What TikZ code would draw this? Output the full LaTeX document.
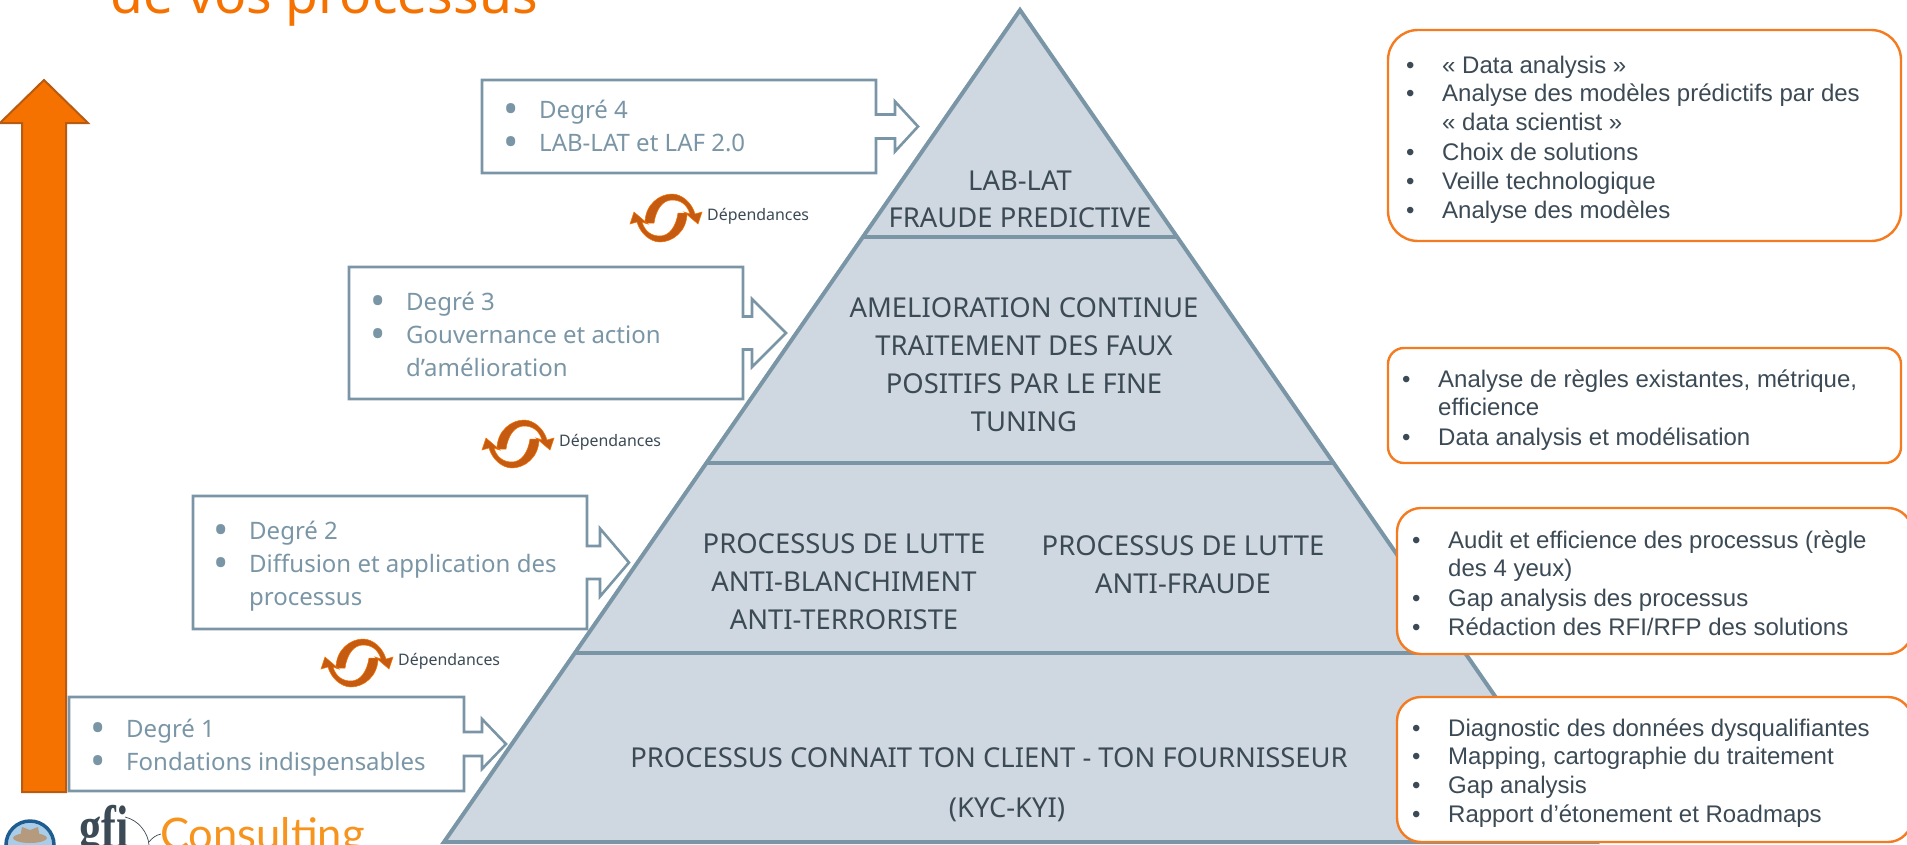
\documentclass[tikz,border=0pt]{standalone}
\usepackage{fontspec}
\setmainfont{Noto Sans}
\newfontfamily\arialfont{Liberation Sans}
\newfontfamily\gfifont{Liberation Serif}
\newfontfamily\consultfont{Lato}
\definecolor{pyrline}{HTML}{7A96A6}
\definecolor{pyrfill}{HTML}{CFD8E0}
\definecolor{txtdark}{HTML}{3B4A55}
\definecolor{orangemain}{HTML}{F57200}
\definecolor{orangedark}{HTML}{B85A10}
\definecolor{orangebord}{HTML}{F47B20}
\definecolor{orangelogo}{HTML}{F7941D}
\definecolor{flipdark}{HTML}{C55A11}
\definecolor{avatring}{HTML}{1F5C8F}
\definecolor{avatfill}{HTML}{A9CDE8}
\definecolor{avathat}{HTML}{B59A7D}
\newcommand\puce[1]{\par\spaceskip=0pt\xspaceskip=0pt\noindent\makebox[36pt][l]{\textbullet}\begin{tabular}[t]{@{}l@{}}#1\end{tabular}\par}
\newcommand\puced[1]{\par\spaceskip=0pt\xspaceskip=0pt\noindent\makebox[36pt][l]{\raisebox{-.22em}{\scalebox{1.7}{\textbullet}}}\begin{tabular}[t]{@{}l@{}}#1\end{tabular}\par}
\newcommand\degrebox[8]{%
  \pgfmathsetmacro\midy{(#2+#4)/2}
  \pgfmathsetmacro\necka{\midy-#5}
  \pgfmathsetmacro\neckb{\midy+#5}
  \pgfmathsetmacro\heada{\midy-#6}
  \pgfmathsetmacro\headb{\midy+#6}
  \draw[degreline] (#1,#2) -- (#3,#2) -- (#3,\necka) -- (#7,\necka) -- (#7,\heada) -- (#8,\midy) -- (#7,\headb) -- (#7,\neckb) -- (#3,\neckb) -- (#3,#4) -- (#1,#4) -- cycle;
}
\tikzset{
  degreline/.style={draw=pyrline, line width=2.6pt, fill=white, line join=miter},
  degretxt/.style={anchor=north west, inner sep=0pt, text width=380pt, align=left, text=pyrline, font=\fontsize{24}{33}\selectfont},
  pyrtxt/.style={anchor=base, inner sep=0pt, text=txtdark, font=\fontsize{27.4}{32}\selectfont},
  casebox/.style={draw=orangebord, line width=2.4pt, fill=white},
  casetxt/.style={anchor=north west, inner sep=0pt, text width=490pt, align=left, text=txtdark, font=\arialfont\fontsize{24}{28.8}\selectfont},
  deptxt/.style={anchor=west, inner sep=0pt, text=txtdark, font=\fontsize{15.9}{20}\selectfont},
  flip/.pic={
    \foreach \ang in {0,180} {
      \fill[flipdark, rotate=\ang, draw=orangemain, line width=0.5pt] (-21,5) .. controls (-21,-14) and (-6,-24) .. (6,-24) .. controls (16,-24) and (26,-15) .. (29,-4) -- (36,-6) -- (32,6) -- (18,-6) -- (24,-4) .. controls (21,-14) and (14,-18) .. (6,-18) .. controls (-3,-18) and (-10,-9) .. (-12,5) -- cycle;
    }
  }
}
\begin{document}
\begin{tikzpicture}[x=1pt,y=-1pt]
\useasboundingbox (0,0) rectangle (1907,844);
\node[anchor=base west, inner sep=0pt, text=orangemain, font=\fontsize{53.4}{60}\selectfont] (title) at (110,13) {de vos processus};
% grande fleche
\draw[fill=orangemain, draw=orangedark, line width=2pt] (44,80) -- (88,123) -- (66,123) -- (66,792) -- (22,792) -- (22,123) -- (0,123) -- cycle;
% pyramide
\coordinate (apex) at (1020,10);
\coordinate (baseL) at (444,842);
\coordinate (baseR) at (1596,842);
\draw[draw=pyrline, fill=pyrfill, line width=4pt, line join=miter] (apex) -- (baseL) -- (baseR) -- cycle;
\foreach \lvl in {237,463,653} {
  \pgfmathsetmacro\dx{(\lvl-10)*0.692}
  \draw[draw=pyrline, line width=4pt] (1020-\dx,\lvl) -- (1020+\dx,\lvl);
}
\node[pyrtxt] (lab1) at (1020,190) {LAB-LAT};
\node[pyrtxt] (lab2) at (1020,227) {FRAUDE PREDICTIVE};
\node[pyrtxt] (amel1) at (1024,317) {AMELIORATION CONTINUE};
\node[pyrtxt] (amel2) at (1024,355) {TRAITEMENT DES FAUX};
\node[pyrtxt] (amel3) at (1024,393) {POSITIFS PAR LE FINE};
\node[pyrtxt] (amel4) at (1024,431) {TUNING};
\node[pyrtxt] (blanc1) at (844,553) {PROCESSUS DE LUTTE};
\node[pyrtxt] (blanc2) at (844,591) {ANTI-BLANCHIMENT};
\node[pyrtxt] (blanc3) at (844,629) {ANTI-TERRORISTE};
\node[pyrtxt] (fraude1) at (1183,555) {PROCESSUS DE LUTTE};
\node[pyrtxt] (fraude2) at (1183,593) {ANTI-FRAUDE};
\node[pyrtxt] (kyc1) at (989,767) {PROCESSUS CONNAIT TON CLIENT - TON FOURNISSEUR};
\node[pyrtxt] (kyc2) at (1007,817) {(KYC-KYI)};
% degres
\degrebox{482}{80}{876}{173}{12}{25}{895}{918}
\degrebox{349}{267}{743}{399}{16.5}{34}{752}{786}
\degrebox{193}{496}{587}{629}{16.5}{34}{600}{629}
\degrebox{69}{697}{464}{791}{12}{25}{482}{506}
\node[degretxt] (deg4) at (503,85) {\puced{Degré 4}\puced{LAB-LAT et LAF 2.0}};
\node[degretxt] (deg3) at (370,277) {\puced{Degré 3}\puced{Gouvernance et action\\d’amélioration}};
\node[degretxt] (deg2) at (213,506) {\puced{Degré 2}\puced{Diffusion et application des\\processus}};
\node[degretxt] (deg1) at (90,704) {\puced{Degré 1}\puced{Fondations indispensables}};
% dependances
\foreach \nom/\fx/\fy in {a/666/218,b/518/444,c/357/663} {
  \pic at (\fx,\fy) {flip};
  \node[deptxt] (dep\nom) at (\fx+41,\fy-2) {Dépendances};
}
% cadres orange
\draw[casebox, rounded corners=30pt] (1388,30) rectangle (1901,241);
\draw[casebox, rounded corners=16pt] (1388,348) rectangle (1901,463);
\draw[casebox, rounded corners=24pt] (1397,508) rectangle (1912,654);
\draw[casebox, rounded corners=24pt] (1397,697) rectangle (1912,842);
\node[casetxt] (caseA) at (1406,44) {\puce{« Data analysis »}\puce{Analyse des modèles prédictifs par des\\« data scientist »}\puce{Choix de solutions}\puce{Veille technologique}\puce{Analyse des modèles}};
\node[casetxt] (caseB) at (1402,358) {\puce{Analyse de règles existantes, métrique,\\efficience}\puce{Data analysis et modélisation}};
\node[casetxt] (caseC) at (1412,519) {\puce{Audit et efficience des processus (règle\\des 4 yeux)}\puce{Gap analysis des processus}\puce{Rédaction des RFI/RFP des solutions}};
\node[casetxt] (caseD) at (1412,707) {\puce{Diagnostic des données dysqualifiantes}\puce{Mapping, cartographie du traitement}\puce{Gap analysis}\puce{Rapport d’étonement et Roadmaps}};
% logo
\draw[draw=avatring, line width=3.5pt, fill=avatfill] (30,845) circle (24);
\fill[avathat] (30,838) ellipse (17 and 5);
\fill[avathat] (20,838) -- (22,827) -- (30,830) -- (38,827) -- (40,838) -- cycle;
\node[anchor=base west, inner sep=0pt, text=txtdark, xscale=.74, font=\gfifont\bfseries\fontsize{60}{60}\selectfont] (gfi) at (79,847) {gfi};
\node[anchor=base west, inner sep=0pt, text=orangelogo, font=\consultfont\fontsize{43.5}{50}\selectfont] (consult) at (160,849) {Consulting};
\draw[txtdark, line width=0.7pt] (125,817) .. controls (138,820) and (148,832) .. (149,845);
\draw[txtdark, line width=0.7pt] (149,842) .. controls (152,838) and (156,835) .. (161,834);
\end{tikzpicture}
\end{document}
